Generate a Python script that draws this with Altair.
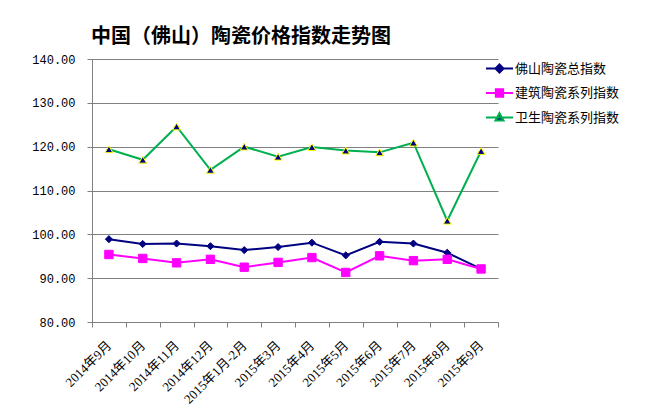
import altair as alt
import pandas as pd

months = ["2014年9月", "2014年10月", "2014年11月", "2014年12月", "2015年1月-2月",
          "2015年3月", "2015年4月", "2015年5月", "2015年6月", "2015年7月",
          "2015年8月", "2015年9月"]
series_names = ["佛山陶瓷总指数", "建筑陶瓷系列指数", "卫生陶瓷系列指数"]
total = [98.9, 97.8, 97.9, 97.3, 96.4, 97.1, 98.1, 95.2, 98.3, 97.9, 95.8, 92.1]
building = [95.4, 94.5, 93.5, 94.3, 92.5, 93.6, 94.7, 91.3, 95.1, 94.0, 94.3, 92.1]
sanitary = [119.4, 117.0, 124.6, 114.7, 120.0, 117.7, 119.9, 119.1, 118.7, 120.9, 103.1, 119.0]

line_colors = ["#000080", "#FF00FF", "#00B050"]
fill_colors = ["#000080", "#FF00FF", "#000080"]
stroke_colors = ["#000080", "#FF00FF", "#FFFF00"]
shapes = ["diamond", "square", "triangle-up"]
marker_sizes = [50, 70, 60]
legend_paths = [
    "M-1,0H1M0,-0.3L0.3,0L0,0.3L-0.3,0Z",
    "M-1,0H1M-0.27,-0.27H0.27V0.27H-0.27Z",
    "M-1,0H1M0,-0.32L0.3,0.22L-0.3,0.22Z",
]

rows = []
for name, vals in zip(series_names, [total, building, sanitary]):
    for m, v in zip(months, vals):
        rows.append({"month": m, "series": name, "value": v})
df = pd.DataFrame(rows)

FONT = "Noto Sans CJK SC"
XFONT = "Liberation Serif, Noto Sans CJK SC"

x = alt.X("month:N", sort=months, bandPosition=0.5,
          scale=alt.Scale(type="band", paddingInner=0, paddingOuter=0),
          axis=alt.Axis(title=None, labelAngle=-45, labelAlign="right", labelBaseline="middle",
                        tickBand="extent", tickSize=5, labelPadding=16, labelFontSize=13,
                        labelFont=XFONT, labelColor="#000000", domainColor="#808080",
                        tickColor="#808080", grid=False))
y = alt.Y("value:Q", scale=alt.Scale(domain=[80, 140], nice=False, zero=False),
          axis=alt.Axis(title=None, values=[80, 90, 100, 110, 120, 130, 140], format=".2f",
                        tickSize=5, labelPadding=12, labelFontSize=12, labelFont="Liberation Mono",
                        labelColor="#000000", domainColor="#808080", tickColor="#808080",
                        grid=True, gridColor="#808080", gridWidth=1))

# invisible layer that only provides the legend (line + marker symbols)
leg = alt.Legend(orient="none", legendX=393, legendY=-5, title=None, symbolSize=729,
                 symbolStrokeWidth=2, symbolOpacity=1, labelFontSize=13, labelFont=FONT,
                 labelColor="#000000", labelOffset=1, rowPadding=1.5, direction="vertical")
legend_layer = alt.Chart(df).mark_point(filled=True, opacity=0, size=1).encode(
    x=x, y=y,
    shape=alt.Shape("series:N", scale=alt.Scale(domain=series_names, range=legend_paths), legend=leg),
    fill=alt.Fill("series:N", scale=alt.Scale(domain=series_names, range=fill_colors), legend=leg),
    stroke=alt.Stroke("series:N", scale=alt.Scale(domain=series_names, range=line_colors), legend=leg),
)

line_layers = []
for name, lc in zip(series_names, line_colors):
    line_layers.append(
        alt.Chart(df).transform_filter(alt.datum.series == name)
        .mark_line(strokeWidth=2, color=lc).encode(x=x, y=y)
    )

point_layers = []
for name, shp, fc, sc, sz in zip(series_names, shapes, fill_colors, stroke_colors, marker_sizes):
    point_layers.append(
        alt.Chart(df).transform_filter(alt.datum.series == name)
        .mark_point(shape=shp, filled=True, fill=fc, stroke=sc, strokeWidth=1, size=sz, opacity=1)
        .encode(x=x, y=y)
    )

chart = alt.layer(legend_layer, *line_layers, *point_layers).properties(
    width=406, height=263,
    title=alt.TitleParams("中国（佛山）陶瓷价格指数走势图", anchor="start", frame="group", dx=-1,
                          offset=6, fontSize=20, font=FONT, fontWeight="bold", color="#000000"),
    autosize=alt.AutoSizeParams(type="none"),
    padding={"left": 92, "top": 59, "right": 148, "bottom": 98},
    background="white",
).configure_view(strokeWidth=0)

chart.save("out.html", embed_options={"renderer": "svg", "actions": False})
